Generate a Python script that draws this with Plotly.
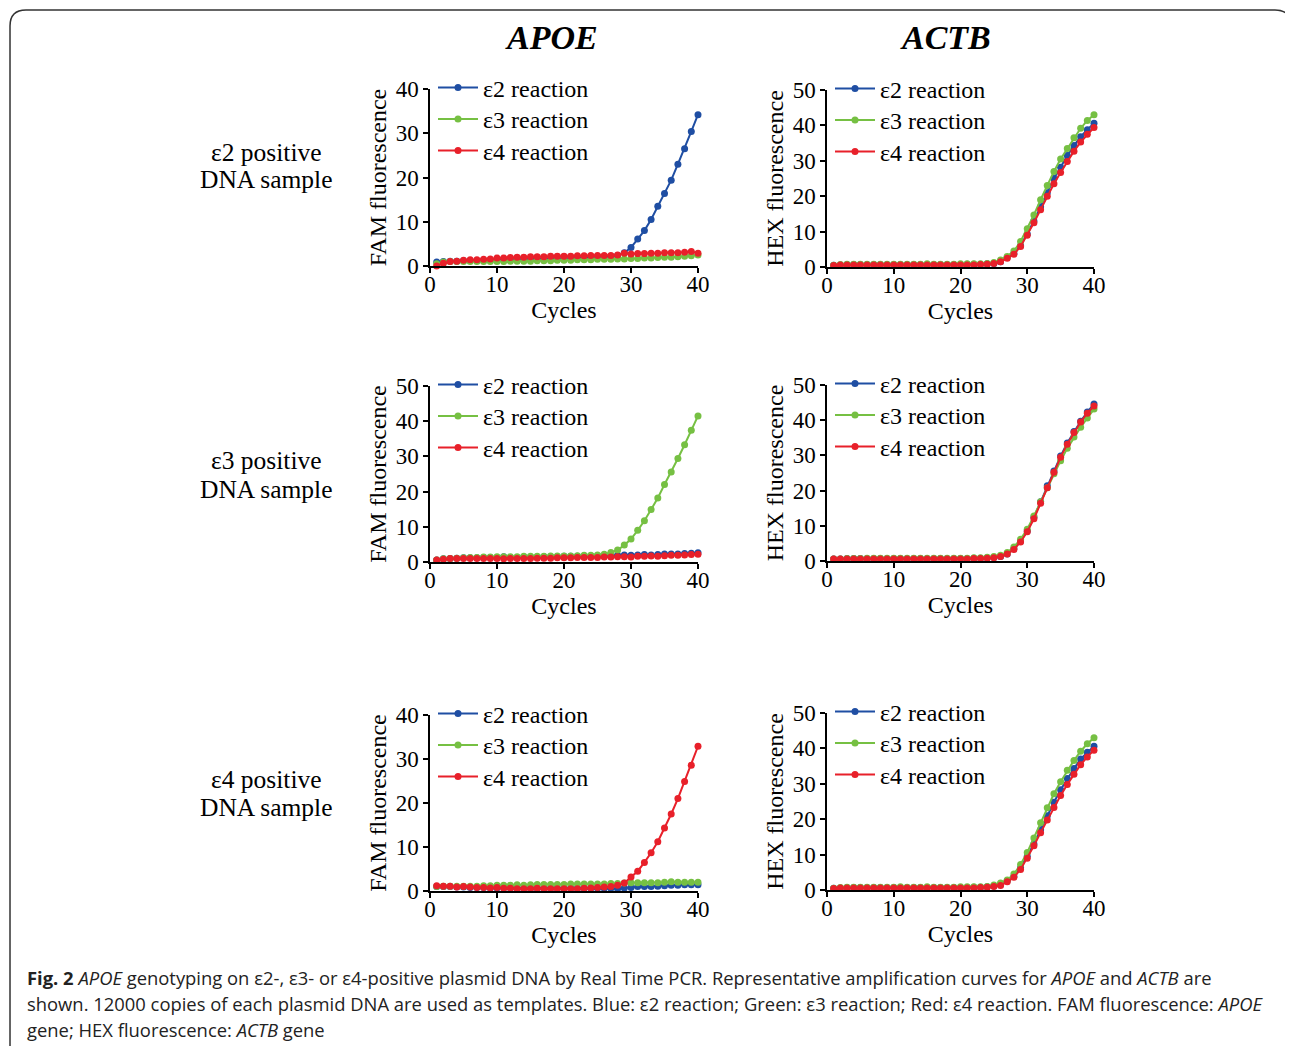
import plotly.graph_objects as go

cycles = list(range(1, 41))
series_names = ["ε2 reaction", "ε3 reaction", "ε4 reaction"]
series_colors = ["#1f4ea3", "#76c043", "#e8202a"]
column_titles = ["APOE", "ACTB"]
row_labels = [["ε2 positive", "DNA sample"], ["ε3 positive", "DNA sample"], ["ε4 positive", "DNA sample"]]
y_titles = ["FAM fluorescence", "HEX fluorescence"]
x_title = "Cycles"
x_ticks = [0, 10, 20, 30, 40]

# APOE (FAM), e2-positive sample
apoe_e2s_e2 = [0.9,1.0,1.1,1.1,1.2,1.2,1.2,1.3,1.3,1.3, 1.4,1.4,1.4,1.5,1.5,1.5,1.6,1.6,1.6,1.7,
               1.7,1.8,1.8,1.9,2.0,2.1,2.2,2.4,3.0,4.2, 6.1,8.0,10.5,13.5,16.4,19.4,23.0,26.5,30.4,34.2]
apoe_e2s_e3 = [0.5,0.9,1.0,1.0,1.0,1.0,1.0,1.0,1.0,1.0, 1.0,1.1,1.1,1.1,1.1,1.2,1.2,1.2,1.3,1.3,
               1.3,1.4,1.4,1.4,1.5,1.5,1.5,1.6,1.6,1.7, 1.7,1.8,1.8,1.9,2.0,2.0,2.1,2.2,2.3,2.5]
apoe_e2s_e4 = [0.0,0.6,1.0,1.1,1.3,1.4,1.4,1.5,1.6,1.8, 1.8,1.9,2.0,2.0,2.1,2.1,2.1,2.2,2.2,2.2,
               2.2,2.3,2.3,2.4,2.4,2.4,2.4,2.5,2.9,2.7, 2.8,2.8,2.9,2.9,3.0,3.0,3.0,3.1,3.3,2.9]
# ACTB (HEX), e2-positive sample
actb_e2s_e2 = [0.5,0.6,0.7,0.7,0.7,0.7,0.7,0.7,0.7,0.7, 0.7,0.7,0.7,0.7,0.7,0.7,0.7,0.7,0.7,0.7,
               0.8,0.8,0.8,0.9,1.0,1.5,2.7,3.8,6.0,9.3, 13.0,17.0,21.0,25.0,28.2,31.5,34.3,36.8,38.8,40.6]
actb_e2s_e3 = [0.5,0.7,0.8,0.8,0.8,0.8,0.8,0.8,0.8,0.8, 0.8,0.8,0.8,0.8,0.9,0.8,0.8,0.8,0.8,0.9,
               0.9,0.9,0.9,1.0,1.3,2.0,3.0,4.5,7.2,10.8, 14.7,19.0,23.0,27.0,30.5,33.5,36.5,39.2,41.4,43.0]
actb_e2s_e4 = [0.4,0.6,0.6,0.6,0.6,0.6,0.6,0.6,0.6,0.6, 0.6,0.6,0.6,0.6,0.6,0.6,0.6,0.6,0.6,0.6,
               0.6,0.6,0.7,0.8,1.0,1.5,2.5,3.6,5.8,9.0, 12.5,16.2,20.0,23.5,26.7,29.8,32.7,35.3,37.5,39.4]
# APOE (FAM), e3-positive sample
apoe_e3s_e2 = [0.6,0.9,1.0,1.1,1.2,1.2,1.2,1.3,1.3,1.3, 1.5,1.3,1.3,1.4,1.4,1.4,1.5,1.5,1.5,1.6,
               1.6,1.6,1.7,1.7,1.7,1.8,1.8,1.9,2.0,1.9, 2.0,2.1,2.0,2.1,2.3,2.3,2.3,2.4,2.5,2.6]
apoe_e3s_e3 = [0.6,0.9,1.0,1.1,1.2,1.3,1.3,1.4,1.4,1.5, 1.5,1.5,1.5,1.6,1.6,1.6,1.6,1.7,1.7,1.7,
               1.7,1.8,1.9,1.9,2.0,2.2,2.7,3.4,4.8,6.5, 9.0,11.7,14.9,18.2,22.0,25.6,29.4,33.3,37.4,41.5]
apoe_e3s_e4 = [0.6,0.8,1.0,1.0,1.0,1.0,1.0,1.0,1.0,1.0, 0.9,1.0,1.0,1.0,1.0,1.1,1.1,1.1,1.2,1.2,
               1.2,1.3,1.3,1.3,1.3,1.4,1.4,1.5,1.5,1.4, 1.6,1.6,1.7,1.6,1.8,1.9,1.9,2.0,2.1,2.2]
# ACTB (HEX), e3-positive sample
actb_e3s_e2 = [0.6,0.6,0.7,0.7,0.7,0.7,0.7,0.7,0.7,0.7, 0.7,0.7,0.7,0.7,0.7,0.7,0.7,0.7,0.7,0.7,
               0.7,0.8,0.8,0.9,1.0,1.3,2.0,3.5,5.7,8.5, 12.4,16.8,21.4,25.6,29.8,33.5,36.8,39.7,42.3,44.6]
actb_e3s_e3 = [0.6,0.6,0.7,0.7,0.7,0.8,0.8,0.8,0.8,0.8, 0.8,0.8,0.8,0.8,0.8,0.8,0.8,0.8,0.8,0.8,
               0.8,0.9,0.9,1.1,1.3,1.6,2.4,4.0,6.2,9.0, 12.8,16.8,20.8,24.8,28.5,32.0,35.2,38.0,40.6,43.2]
actb_e3s_e4 = [0.6,0.6,0.6,0.6,0.6,0.6,0.6,0.6,0.6,0.6, 0.6,0.6,0.6,0.6,0.6,0.6,0.6,0.6,0.6,0.6,
               0.6,0.7,0.7,0.8,0.9,1.3,2.0,3.3,5.4,8.3, 12.0,16.4,20.8,25.2,29.5,33.2,36.5,39.5,42.0,44.0]
# APOE (FAM), e4-positive sample
apoe_e4s_e2 = [1.0,1.0,1.0,0.9,0.9,0.8,0.8,0.8,0.7,0.7, 0.7,0.7,0.6,0.6,0.6,0.6,0.6,0.6,0.6,0.6,
               0.6,0.6,0.6,0.6,0.6,0.6,0.6,0.5,0.7,0.8, 1.0,1.0,1.0,1.1,1.2,1.3,1.3,1.4,1.4,1.4]
apoe_e4s_e3 = [1.0,1.1,1.1,1.1,1.1,1.1,1.1,1.2,1.2,1.3, 1.3,1.3,1.4,1.3,1.4,1.5,1.5,1.5,1.5,1.5,
               1.6,1.6,1.6,1.6,1.6,1.6,1.7,1.7,1.8,1.9, 1.9,1.9,1.9,1.9,2.0,2.1,2.0,2.0,2.0,2.0]
apoe_e4s_e4 = [1.2,1.1,1.1,0.9,1.0,0.9,0.8,0.8,0.7,0.8, 0.6,0.6,0.5,0.5,0.5,0.6,0.5,0.5,0.5,0.5,
               0.5,0.5,0.6,0.7,0.8,0.9,1.0,1.3,1.8,3.2, 4.5,6.5,8.7,11.2,14.3,17.5,21.0,24.9,28.6,32.9]
# ACTB (HEX), e4-positive sample
actb_e4s_e2 = [0.5,0.6,0.7,0.7,0.7,0.7,0.7,0.7,0.7,0.7, 0.7,0.7,0.7,0.7,0.7,0.7,0.7,0.7,0.7,0.7,
               0.7,0.8,0.8,0.9,1.1,1.5,2.6,3.8,6.3,9.5, 13.0,17.0,21.0,24.8,28.3,31.5,34.3,37.0,38.9,40.6]
actb_e4s_e3 = [0.5,0.7,0.8,0.8,0.8,0.8,0.8,0.8,0.8,0.8, 0.9,0.8,0.8,0.8,0.9,0.8,0.8,0.8,0.8,0.9,
               0.9,0.9,0.9,1.0,1.4,2.0,2.8,4.5,7.2,10.6, 14.7,19.0,23.2,27.2,30.6,33.8,36.6,39.2,41.3,43.0]
actb_e4s_e4 = [0.4,0.6,0.6,0.6,0.6,0.6,0.6,0.6,0.6,0.6, 0.6,0.6,0.6,0.6,0.6,0.6,0.6,0.6,0.6,0.6,
               0.6,0.6,0.7,0.8,1.0,1.3,2.3,3.6,5.8,9.0, 12.5,16.2,19.8,23.3,26.7,29.8,32.7,35.4,37.6,39.5]

y_max = [[40, 50], [50, 50], [40, 50]]

panels = [
    [[apoe_e2s_e2, apoe_e2s_e3, apoe_e2s_e4], [actb_e2s_e2, actb_e2s_e3, actb_e2s_e4]],
    [[apoe_e3s_e2, apoe_e3s_e3, apoe_e3s_e4], [actb_e3s_e2, actb_e3s_e3, actb_e3s_e4]],
    [[apoe_e4s_e2, apoe_e4s_e3, apoe_e4s_e4], [actb_e4s_e2, actb_e4s_e3, actb_e4s_e4]],
]

W, H = 1293, 1046
OFF = 8  # page body margin offset
# pixel layout of plot areas (target screen pixels)
col_px = [(430, 698), (827, 1094)]
row_px = [[(89, 266), (90, 267)], [(386, 562), (385, 561)], [(715, 891), (713, 890)]]

def px_x(v):
    return (v - OFF) / W

def px_y(v):
    return 1 - (v - OFF) / H

SERIF = "Liberation Serif"
fig = go.Figure()
layout = {}
n = 0
lg_n = 0
for r in range(3):
    for c in range(2):
        n += 1
        xa = "xaxis" if n == 1 else f"xaxis{n}"
        ya = "yaxis" if n == 1 else f"yaxis{n}"
        xr = "x" if n == 1 else f"x{n}"
        yr = "y" if n == 1 else f"y{n}"
        top, bot = row_px[r][c]
        left, right = col_px[c]
        layout[xa] = dict(domain=[px_x(left), px_x(right)], anchor=yr, range=[0, 40],
                          tickvals=x_ticks, showline=True, linecolor="black", linewidth=1.5,
                          ticks="outside", ticklen=5, tickwidth=1.5, tickcolor="black",
                          showgrid=False, zeroline=False, ticklabelstandoff=-8,
                          tickfont=dict(family=SERIF, size=23, color="black"),
                          title=dict(text=x_title, font=dict(family=SERIF, size=24, color="black"), standoff=0))
        layout[ya] = dict(domain=[px_y(bot), px_y(top)], anchor=xr, range=[0, y_max[r][c]],
                          dtick=10, showline=True, linecolor="black", linewidth=1.5,
                          ticks="outside", ticklen=5, tickwidth=1.5, tickcolor="black",
                          showgrid=False, zeroline=False,
                          tickfont=dict(family=SERIF, size=23, color="black"),
                          title=dict(text=y_titles[c], font=dict(family=SERIF, size=24, color="black"), standoff=2))
        for s in range(3):
            lg_n += 1
            lg = "legend" if lg_n == 1 else f"legend{lg_n}"
            layout[lg] = dict(x=px_x(left + 3), y=px_y(top - 1 + 31.5 * s), xanchor="left", yanchor="middle",
                              bgcolor="rgba(0,0,0,0)", borderwidth=0, itemwidth=40,
                              font=dict(family=SERIF, size=24, color="black"))
            fig.add_trace(go.Scatter(
                x=cycles, y=panels[r][c][s], name=series_names[s], mode="lines+markers",
                line=dict(color=series_colors[s], width=2),
                marker=dict(color=series_colors[s], size=7),
                xaxis=xr, yaxis=yr, legend=lg, cliponaxis=False, showlegend=True))

annotations = []
for c, t in enumerate(column_titles):
    cx = [551, 945][c]
    annotations.append(dict(text=f"<b><i>{t}</i></b>", x=px_x(cx), y=px_y(38), xref="paper", yref="paper",
                            showarrow=False, xanchor="center", yanchor="middle",
                            font=dict(family=SERIF, size=34, color="black")))
for r, lines in enumerate(row_labels):
    cy = [152, 461, 779][r]
    for k, t in enumerate(lines):
        annotations.append(dict(text=t, x=px_x(266), y=px_y(cy + 28 * k), xref="paper", yref="paper",
                                showarrow=False, xanchor="center", yanchor="middle", align="center",
                                font=dict(family=SERIF, size=25.5, color="black")))

caption_lines = [
    "<b>Fig. 2</b> <i>APOE</i> genotyping on ε2-, ε3- or ε4-positive plasmid DNA by Real Time PCR. Representative amplification curves for <i>APOE</i> and <i>ACTB</i> are",
    "shown. 12000 copies of each plasmid DNA are used as templates. Blue: ε2 reaction; Green: ε3 reaction; Red: ε4 reaction. FAM fluorescence: <i>APOE</i>",
    "gene; HEX fluorescence: <i>ACTB</i> gene",
]
for i, t in enumerate(caption_lines):
    annotations.append(dict(text=t, x=px_x(25), y=px_y([977, 1003, 1029][i]), xref="paper", yref="paper",
                            showarrow=False, xanchor="left", yanchor="middle", align="left",
                            font=dict(family="Open Sans", size=18.4, color="#222222")))

# rounded border
x0, x1, y0, y1, rad = 10, 1291, 10, 1070, 16
def P(x, y):
    return f"{px_x(x):.5f},{px_y(y):.5f}"
path = (f"M {P(x0, y1)} L {P(x0, y0 + rad)} Q {P(x0, y0)} {P(x0 + rad, y0)} "
        f"L {P(x1 - rad, y0)} Q {P(x1, y0)} {P(x1, y0 + rad)} L {P(x1, y1)}")
shapes = [dict(type="path", path=path, xref="paper", yref="paper",
               line=dict(color="#333333", width=1.5))]

fig.update_layout(**layout)
fig.update_layout(width=W, height=H, margin=dict(l=0, r=0, t=0, b=0, pad=0, autoexpand=False),
                  paper_bgcolor="white", plot_bgcolor="white",
                  annotations=annotations, shapes=shapes, showlegend=True)
fig.write_html("out.html")
